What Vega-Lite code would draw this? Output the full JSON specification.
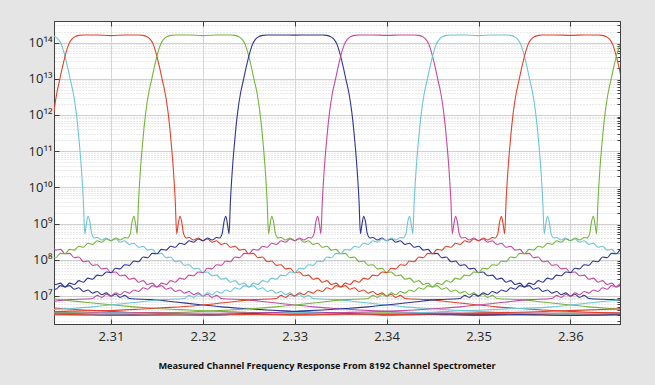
{
"$schema":"https://vega.github.io/schema/vega-lite/v6.json",
"width":566,"height":303,
"autosize":{"type":"none"},
"padding":{"left":54,"top":21,"right":35,"bottom":61},
"background":"#e5e5e5",
"config":{"view":{"fill":"white","stroke":"#404040","strokeWidth":1}},
"title":{"text":"Measured Channel Frequency Response From 8192 Channel Spectrometer","orient":"bottom","anchor":"middle","font":"Open Sans","fontSize":9.2,"fontWeight":"bold","color":"#111111","offset":19,"dx":-10},
"data":{"values":[
{"k":-8,"f":2.3005,"v":3.6e6},{"k":-8,"f":2.3055,"v":3.4e6},{"k":-8,"f":2.3105,"v":3.2e6},{"k":-8,"f":2.3155,"v":3.1e6},{"k":-8,"f":2.3205,"v":3.05e6},{"k":-8,"f":2.3255,"v":3.15e6},{"k":-8,"f":2.3305,"v":2.95e6},{"k":-8,"f":2.3355,"v":3.05e6},{"k":-8,"f":2.3405,"v":3.0e6},{"k":-8,"f":2.3455,"v":3.1e6},{"k":-8,"f":2.3505,"v":2.95e6},{"k":-8,"f":2.3555,"v":3.05e6},{"k":-8,"f":2.3605,"v":3.0e6},{"k":-8,"f":2.3655,"v":3.1e6},
{"k":-7,"f":2.302,"v":5.0e6},{"k":-7,"f":2.3045,"v":4.5e6},{"k":-7,"f":2.307,"v":4.1e6},{"k":-7,"f":2.3095,"v":3.8e6},{"k":-7,"f":2.312,"v":3.5e6},{"k":-7,"f":2.3145,"v":3.4e6},{"k":-7,"f":2.3195,"v":3.2e6},{"k":-7,"f":2.3245,"v":3.3e6},{"k":-7,"f":2.3295,"v":3.1e6},{"k":-7,"f":2.3345,"v":3.25e6},{"k":-7,"f":2.3395,"v":3.1e6},{"k":-7,"f":2.3445,"v":3.2e6},{"k":-7,"f":2.3495,"v":3.05e6},{"k":-7,"f":2.3545,"v":3.15e6},{"k":-7,"f":2.3595,"v":3.0e6},{"k":-7,"f":2.3645,"v":3.1e6},{"k":-7,"f":2.3695,"v":3.05e6},
{"k":-6,"f":2.3025,"v":9.0e6},{"k":-6,"f":2.305,"v":7.6e6},{"k":-6,"f":2.3075,"v":6.6e6},{"k":-6,"f":2.31,"v":5.7e6},{"k":-6,"f":2.3125,"v":5.0e6},{"k":-6,"f":2.315,"v":4.5e6},{"k":-6,"f":2.3175,"v":4.2e6},{"k":-6,"f":2.32,"v":3.9e6},{"k":-6,"f":2.3225,"v":3.7e6},{"k":-6,"f":2.325,"v":3.5e6},{"k":-6,"f":2.33,"v":3.4e6},{"k":-6,"f":2.335,"v":3.3e6},{"k":-6,"f":2.34,"v":3.4e6},{"k":-6,"f":2.345,"v":3.2e6},{"k":-6,"f":2.35,"v":3.3e6},{"k":-6,"f":2.355,"v":3.25e6},{"k":-6,"f":2.36,"v":3.35e6},{"k":-6,"f":2.365,"v":3.2e6},{"k":-6,"f":2.37,"v":3.3e6},
{"k":-5,"f":2.3035,"v":2.66e7},{"k":-5,"f":2.304,"v":2.07e7},{"k":-5,"f":2.3045,"v":2.26e7},{"k":-5,"f":2.305,"v":1.76e7},{"k":-5,"f":2.3055,"v":1.93e7},{"k":-5,"f":2.306,"v":1.53e7},{"k":-5,"f":2.3065,"v":1.68e7},{"k":-5,"f":2.307,"v":1.33e7},{"k":-5,"f":2.3075,"v":1.46e7},{"k":-5,"f":2.308,"v":1.19e7},{"k":-5,"f":2.3085,"v":1.33e7},{"k":-5,"f":2.309,"v":1.08e7},{"k":-5,"f":2.3095,"v":1.22e7},{"k":-5,"f":2.31,"v":9.9e6},{"k":-5,"f":2.3105,"v":1.11e7},{"k":-5,"f":2.311,"v":9.1e6},{"k":-5,"f":2.3115,"v":1.04e7},{"k":-5,"f":2.312,"v":8.5e6},{"k":-5,"f":2.3145,"v":7.9e6},{"k":-5,"f":2.317,"v":6.8e6},{"k":-5,"f":2.3195,"v":5.8e6},{"k":-5,"f":2.322,"v":5.0e6},{"k":-5,"f":2.3245,"v":4.5e6},{"k":-5,"f":2.327,"v":4.1e6},{"k":-5,"f":2.3295,"v":3.8e6},{"k":-5,"f":2.332,"v":3.55e6},{"k":-5,"f":2.3345,"v":3.4e6},{"k":-5,"f":2.3395,"v":3.0e6},{"k":-5,"f":2.3445,"v":3.1e6},{"k":-5,"f":2.3495,"v":2.95e6},{"k":-5,"f":2.3545,"v":3.05e6},{"k":-5,"f":2.3595,"v":2.9e6},{"k":-5,"f":2.3645,"v":3.0e6},{"k":-5,"f":2.3695,"v":2.95e6},
{"k":-4,"f":2.303,"v":2.21e8},{"k":-4,"f":2.3035,"v":2.37e8},{"k":-4,"f":2.304,"v":1.84e8},{"k":-4,"f":2.3045,"v":1.93e8},{"k":-4,"f":2.305,"v":1.46e8},{"k":-4,"f":2.3055,"v":1.5e8},{"k":-4,"f":2.306,"v":1.14e8},{"k":-4,"f":2.3065,"v":1.19e8},{"k":-4,"f":2.307,"v":8.8e7},{"k":-4,"f":2.3075,"v":9.2e7},{"k":-4,"f":2.308,"v":7.0e7},{"k":-4,"f":2.3085,"v":7.3e7},{"k":-4,"f":2.309,"v":5.6e7},{"k":-4,"f":2.3095,"v":5.8e7},{"k":-4,"f":2.31,"v":4.4e7},{"k":-4,"f":2.3105,"v":4.6e7},{"k":-4,"f":2.311,"v":3.6e7},{"k":-4,"f":2.3115,"v":3.76e7},{"k":-4,"f":2.312,"v":2.9e7},{"k":-4,"f":2.3125,"v":3.1e7},{"k":-4,"f":2.313,"v":2.4e7},{"k":-4,"f":2.3135,"v":2.66e7},{"k":-4,"f":2.314,"v":2.07e7},{"k":-4,"f":2.3145,"v":2.26e7},{"k":-4,"f":2.315,"v":1.76e7},{"k":-4,"f":2.3155,"v":1.93e7},{"k":-4,"f":2.316,"v":1.53e7},{"k":-4,"f":2.3165,"v":1.68e7},{"k":-4,"f":2.317,"v":1.33e7},{"k":-4,"f":2.3175,"v":1.46e7},{"k":-4,"f":2.318,"v":1.19e7},{"k":-4,"f":2.3185,"v":1.33e7},{"k":-4,"f":2.319,"v":1.08e7},{"k":-4,"f":2.3195,"v":1.22e7},{"k":-4,"f":2.32,"v":9.9e6},{"k":-4,"f":2.3205,"v":1.11e7},{"k":-4,"f":2.321,"v":9.1e6},{"k":-4,"f":2.3215,"v":1.04e7},{"k":-4,"f":2.322,"v":8.5e6},{"k":-4,"f":2.3245,"v":7.9e6},{"k":-4,"f":2.327,"v":6.8e6},{"k":-4,"f":2.3295,"v":5.8e6},{"k":-4,"f":2.332,"v":5.0e6},{"k":-4,"f":2.3345,"v":4.5e6},{"k":-4,"f":2.337,"v":4.1e6},{"k":-4,"f":2.3395,"v":3.8e6},{"k":-4,"f":2.342,"v":3.55e6},{"k":-4,"f":2.3445,"v":3.4e6},{"k":-4,"f":2.3495,"v":3.3e6},{"k":-4,"f":2.3545,"v":3.45e6},{"k":-4,"f":2.3595,"v":3.3e6},{"k":-4,"f":2.3645,"v":3.4e6},{"k":-4,"f":2.3695,"v":3.3e6},
{"k":-3,"f":2.3035,"v":1.58e14},{"k":-3,"f":2.304,"v":1.41e14},{"k":-3,"f":2.3043,"v":1.2e14},{"k":-3,"f":2.3046,"v":8.9e13},{"k":-3,"f":2.305,"v":4.17e13},{"k":-3,"f":2.3053,"v":2.0e13},{"k":-3,"f":2.3056,"v":8.9e12},{"k":-3,"f":2.3059,"v":3.98e12},{"k":-3,"f":2.3062,"v":1.26e12},{"k":-3,"f":2.3064,"v":4.47e11},{"k":-3,"f":2.3066,"v":1.26e11},{"k":-3,"f":2.3068,"v":2.82e10},{"k":-3,"f":2.307,"v":3.98e9},{"k":-3,"f":2.30715,"v":5.25e8},{"k":-3,"f":2.3073,"v":8.9e8},{"k":-3,"f":2.3075,"v":1.58e9},{"k":-3,"f":2.3077,"v":1.12e9},{"k":-3,"f":2.3079,"v":5.25e8},{"k":-3,"f":2.3082,"v":3.98e8},
{"k":-3,"f":2.3085,"v":4.1e8},{"k":-3,"f":2.309,"v":3.5e8},{"k":-3,"f":2.3095,"v":4.0e8},{"k":-3,"f":2.31,"v":3.35e8},{"k":-3,"f":2.3105,"v":3.76e8},{"k":-3,"f":2.311,"v":3.05e8},{"k":-3,"f":2.3115,"v":3.35e8},{"k":-3,"f":2.312,"v":2.66e8},{"k":-3,"f":2.3125,"v":2.85e8},{"k":-3,"f":2.313,"v":2.21e8},{"k":-3,"f":2.3135,"v":2.37e8},{"k":-3,"f":2.314,"v":1.84e8},{"k":-3,"f":2.3145,"v":1.93e8},{"k":-3,"f":2.315,"v":1.46e8},{"k":-3,"f":2.3155,"v":1.5e8},{"k":-3,"f":2.316,"v":1.14e8},{"k":-3,"f":2.3165,"v":1.19e8},{"k":-3,"f":2.317,"v":8.8e7},{"k":-3,"f":2.3175,"v":9.2e7},{"k":-3,"f":2.318,"v":7.0e7},{"k":-3,"f":2.3185,"v":7.3e7},{"k":-3,"f":2.319,"v":5.6e7},{"k":-3,"f":2.3195,"v":5.8e7},{"k":-3,"f":2.32,"v":4.4e7},{"k":-3,"f":2.3205,"v":4.6e7},{"k":-3,"f":2.321,"v":3.6e7},{"k":-3,"f":2.3215,"v":3.76e7},{"k":-3,"f":2.322,"v":2.9e7},{"k":-3,"f":2.3225,"v":3.1e7},{"k":-3,"f":2.323,"v":2.4e7},{"k":-3,"f":2.3235,"v":2.66e7},{"k":-3,"f":2.324,"v":2.07e7},{"k":-3,"f":2.3245,"v":2.26e7},{"k":-3,"f":2.325,"v":1.76e7},{"k":-3,"f":2.3255,"v":1.93e7},{"k":-3,"f":2.326,"v":1.53e7},{"k":-3,"f":2.3265,"v":1.68e7},{"k":-3,"f":2.327,"v":1.33e7},{"k":-3,"f":2.3275,"v":1.46e7},{"k":-3,"f":2.328,"v":1.19e7},{"k":-3,"f":2.3285,"v":1.33e7},{"k":-3,"f":2.329,"v":1.08e7},{"k":-3,"f":2.3295,"v":1.22e7},{"k":-3,"f":2.33,"v":9.9e6},{"k":-3,"f":2.3305,"v":1.11e7},{"k":-3,"f":2.331,"v":9.1e6},{"k":-3,"f":2.3315,"v":1.04e7},{"k":-3,"f":2.332,"v":8.5e6},{"k":-3,"f":2.3345,"v":7.9e6},{"k":-3,"f":2.337,"v":6.8e6},{"k":-3,"f":2.3395,"v":5.8e6},{"k":-3,"f":2.342,"v":5.0e6},{"k":-3,"f":2.3445,"v":4.5e6},{"k":-3,"f":2.347,"v":4.1e6},{"k":-3,"f":2.3495,"v":3.8e6},{"k":-3,"f":2.352,"v":3.55e6},{"k":-3,"f":2.3545,"v":3.4e6},{"k":-3,"f":2.3595,"v":3.2e6},{"k":-3,"f":2.3645,"v":3.3e6},{"k":-3,"f":2.3695,"v":3.15e6},
{"k":-2,"f":2.3036,"v":4.47e11},{"k":-2,"f":2.3038,"v":1.26e12},{"k":-2,"f":2.3041,"v":3.98e12},{"k":-2,"f":2.3044,"v":8.9e12},{"k":-2,"f":2.3047,"v":2.0e13},{"k":-2,"f":2.305,"v":4.17e13},{"k":-2,"f":2.3054,"v":8.9e13},{"k":-2,"f":2.3057,"v":1.2e14},{"k":-2,"f":2.306,"v":1.41e14},{"k":-2,"f":2.3065,"v":1.58e14},{"k":-2,"f":2.307,"v":1.62e14},{"k":-2,"f":2.3085,"v":1.62e14},{"k":-2,"f":2.31,"v":1.55e14},{"k":-2,"f":2.3115,"v":1.62e14},{"k":-2,"f":2.313,"v":1.62e14},{"k":-2,"f":2.3135,"v":1.58e14},{"k":-2,"f":2.314,"v":1.41e14},{"k":-2,"f":2.3143,"v":1.2e14},{"k":-2,"f":2.3146,"v":8.9e13},{"k":-2,"f":2.315,"v":4.17e13},{"k":-2,"f":2.3153,"v":2.0e13},{"k":-2,"f":2.3156,"v":8.9e12},{"k":-2,"f":2.3159,"v":3.98e12},{"k":-2,"f":2.3162,"v":1.26e12},{"k":-2,"f":2.3164,"v":4.47e11},{"k":-2,"f":2.3166,"v":1.26e11},{"k":-2,"f":2.3168,"v":2.82e10},{"k":-2,"f":2.317,"v":3.98e9},{"k":-2,"f":2.31715,"v":5.25e8},{"k":-2,"f":2.3173,"v":8.9e8},{"k":-2,"f":2.3175,"v":1.58e9},{"k":-2,"f":2.3177,"v":1.12e9},{"k":-2,"f":2.3179,"v":5.25e8},{"k":-2,"f":2.3182,"v":3.98e8},
{"k":-2,"f":2.3185,"v":4.1e8},{"k":-2,"f":2.319,"v":3.5e8},{"k":-2,"f":2.3195,"v":4.0e8},{"k":-2,"f":2.32,"v":3.35e8},{"k":-2,"f":2.3205,"v":3.76e8},{"k":-2,"f":2.321,"v":3.05e8},{"k":-2,"f":2.3215,"v":3.35e8},{"k":-2,"f":2.322,"v":2.66e8},{"k":-2,"f":2.3225,"v":2.85e8},{"k":-2,"f":2.323,"v":2.21e8},{"k":-2,"f":2.3235,"v":2.37e8},{"k":-2,"f":2.324,"v":1.84e8},{"k":-2,"f":2.3245,"v":1.93e8},{"k":-2,"f":2.325,"v":1.46e8},{"k":-2,"f":2.3255,"v":1.5e8},{"k":-2,"f":2.326,"v":1.14e8},{"k":-2,"f":2.3265,"v":1.19e8},{"k":-2,"f":2.327,"v":8.8e7},{"k":-2,"f":2.3275,"v":9.2e7},{"k":-2,"f":2.328,"v":7.0e7},{"k":-2,"f":2.3285,"v":7.3e7},{"k":-2,"f":2.329,"v":5.6e7},{"k":-2,"f":2.3295,"v":5.8e7},{"k":-2,"f":2.33,"v":4.4e7},{"k":-2,"f":2.3305,"v":4.6e7},{"k":-2,"f":2.331,"v":3.6e7},{"k":-2,"f":2.3315,"v":3.76e7},{"k":-2,"f":2.332,"v":2.9e7},{"k":-2,"f":2.3325,"v":3.1e7},{"k":-2,"f":2.333,"v":2.4e7},{"k":-2,"f":2.3335,"v":2.66e7},{"k":-2,"f":2.334,"v":2.07e7},{"k":-2,"f":2.3345,"v":2.26e7},{"k":-2,"f":2.335,"v":1.76e7},{"k":-2,"f":2.3355,"v":1.93e7},{"k":-2,"f":2.336,"v":1.53e7},{"k":-2,"f":2.3365,"v":1.68e7},{"k":-2,"f":2.337,"v":1.33e7},{"k":-2,"f":2.3375,"v":1.46e7},{"k":-2,"f":2.338,"v":1.19e7},{"k":-2,"f":2.3385,"v":1.33e7},{"k":-2,"f":2.339,"v":1.08e7},{"k":-2,"f":2.3395,"v":1.22e7},{"k":-2,"f":2.34,"v":9.9e6},{"k":-2,"f":2.3405,"v":1.11e7},{"k":-2,"f":2.341,"v":9.1e6},{"k":-2,"f":2.3415,"v":1.04e7},{"k":-2,"f":2.342,"v":8.5e6},{"k":-2,"f":2.3445,"v":7.9e6},{"k":-2,"f":2.347,"v":6.8e6},{"k":-2,"f":2.3495,"v":5.8e6},{"k":-2,"f":2.352,"v":5.0e6},{"k":-2,"f":2.3545,"v":4.5e6},{"k":-2,"f":2.357,"v":4.1e6},{"k":-2,"f":2.3595,"v":3.8e6},{"k":-2,"f":2.362,"v":3.55e6},{"k":-2,"f":2.3645,"v":3.4e6},{"k":-2,"f":2.367,"v":3.3e6},
{"k":-1,"f":2.3035,"v":1.19e8},{"k":-1,"f":2.304,"v":1.14e8},{"k":-1,"f":2.3045,"v":1.5e8},{"k":-1,"f":2.305,"v":1.46e8},{"k":-1,"f":2.3055,"v":1.93e8},{"k":-1,"f":2.306,"v":1.84e8},{"k":-1,"f":2.3065,"v":2.37e8},{"k":-1,"f":2.307,"v":2.21e8},{"k":-1,"f":2.3075,"v":2.85e8},{"k":-1,"f":2.308,"v":2.66e8},{"k":-1,"f":2.3085,"v":3.35e8},{"k":-1,"f":2.309,"v":3.05e8},{"k":-1,"f":2.3095,"v":3.76e8},{"k":-1,"f":2.31,"v":3.35e8},{"k":-1,"f":2.3105,"v":4.0e8},{"k":-1,"f":2.311,"v":3.5e8},{"k":-1,"f":2.3115,"v":4.1e8},
{"k":-1,"f":2.3118,"v":3.98e8},{"k":-1,"f":2.3121,"v":5.25e8},{"k":-1,"f":2.3123,"v":1.12e9},{"k":-1,"f":2.3125,"v":1.58e9},{"k":-1,"f":2.3127,"v":8.9e8},{"k":-1,"f":2.31285,"v":5.25e8},{"k":-1,"f":2.313,"v":3.98e9},{"k":-1,"f":2.3132,"v":2.82e10},{"k":-1,"f":2.3134,"v":1.26e11},{"k":-1,"f":2.3136,"v":4.47e11},{"k":-1,"f":2.3138,"v":1.26e12},{"k":-1,"f":2.3141,"v":3.98e12},{"k":-1,"f":2.3144,"v":8.9e12},{"k":-1,"f":2.3147,"v":2.0e13},{"k":-1,"f":2.315,"v":4.17e13},{"k":-1,"f":2.3154,"v":8.9e13},{"k":-1,"f":2.3157,"v":1.2e14},{"k":-1,"f":2.316,"v":1.41e14},{"k":-1,"f":2.3165,"v":1.58e14},{"k":-1,"f":2.317,"v":1.62e14},{"k":-1,"f":2.3185,"v":1.62e14},{"k":-1,"f":2.32,"v":1.55e14},{"k":-1,"f":2.3215,"v":1.62e14},{"k":-1,"f":2.323,"v":1.62e14},{"k":-1,"f":2.3235,"v":1.58e14},{"k":-1,"f":2.324,"v":1.41e14},{"k":-1,"f":2.3243,"v":1.2e14},{"k":-1,"f":2.3246,"v":8.9e13},{"k":-1,"f":2.325,"v":4.17e13},{"k":-1,"f":2.3253,"v":2.0e13},{"k":-1,"f":2.3256,"v":8.9e12},{"k":-1,"f":2.3259,"v":3.98e12},{"k":-1,"f":2.3262,"v":1.26e12},{"k":-1,"f":2.3264,"v":4.47e11},{"k":-1,"f":2.3266,"v":1.26e11},{"k":-1,"f":2.3268,"v":2.82e10},{"k":-1,"f":2.327,"v":3.98e9},{"k":-1,"f":2.32715,"v":5.25e8},{"k":-1,"f":2.3273,"v":8.9e8},{"k":-1,"f":2.3275,"v":1.58e9},{"k":-1,"f":2.3277,"v":1.12e9},{"k":-1,"f":2.3279,"v":5.25e8},{"k":-1,"f":2.3282,"v":3.98e8},
{"k":-1,"f":2.3285,"v":4.1e8},{"k":-1,"f":2.329,"v":3.5e8},{"k":-1,"f":2.3295,"v":4.0e8},{"k":-1,"f":2.33,"v":3.35e8},{"k":-1,"f":2.3305,"v":3.76e8},{"k":-1,"f":2.331,"v":3.05e8},{"k":-1,"f":2.3315,"v":3.35e8},{"k":-1,"f":2.332,"v":2.66e8},{"k":-1,"f":2.3325,"v":2.85e8},{"k":-1,"f":2.333,"v":2.21e8},{"k":-1,"f":2.3335,"v":2.37e8},{"k":-1,"f":2.334,"v":1.84e8},{"k":-1,"f":2.3345,"v":1.93e8},{"k":-1,"f":2.335,"v":1.46e8},{"k":-1,"f":2.3355,"v":1.5e8},{"k":-1,"f":2.336,"v":1.14e8},{"k":-1,"f":2.3365,"v":1.19e8},{"k":-1,"f":2.337,"v":8.8e7},{"k":-1,"f":2.3375,"v":9.2e7},{"k":-1,"f":2.338,"v":7.0e7},{"k":-1,"f":2.3385,"v":7.3e7},{"k":-1,"f":2.339,"v":5.6e7},{"k":-1,"f":2.3395,"v":5.8e7},{"k":-1,"f":2.34,"v":4.4e7},{"k":-1,"f":2.3405,"v":4.6e7},{"k":-1,"f":2.341,"v":3.6e7},{"k":-1,"f":2.3415,"v":3.76e7},{"k":-1,"f":2.342,"v":2.9e7},{"k":-1,"f":2.3425,"v":3.1e7},{"k":-1,"f":2.343,"v":2.4e7},{"k":-1,"f":2.3435,"v":2.66e7},{"k":-1,"f":2.344,"v":2.07e7},{"k":-1,"f":2.3445,"v":2.26e7},{"k":-1,"f":2.345,"v":1.76e7},{"k":-1,"f":2.3455,"v":1.93e7},{"k":-1,"f":2.346,"v":1.53e7},{"k":-1,"f":2.3465,"v":1.68e7},{"k":-1,"f":2.347,"v":1.33e7},{"k":-1,"f":2.3475,"v":1.46e7},{"k":-1,"f":2.348,"v":1.19e7},{"k":-1,"f":2.3485,"v":1.33e7},{"k":-1,"f":2.349,"v":1.08e7},{"k":-1,"f":2.3495,"v":1.22e7},{"k":-1,"f":2.35,"v":9.9e6},{"k":-1,"f":2.3505,"v":1.11e7},{"k":-1,"f":2.351,"v":9.1e6},{"k":-1,"f":2.3515,"v":1.04e7},{"k":-1,"f":2.352,"v":8.5e6},{"k":-1,"f":2.3545,"v":7.9e6},{"k":-1,"f":2.357,"v":6.8e6},{"k":-1,"f":2.3595,"v":5.8e6},{"k":-1,"f":2.362,"v":5.0e6},{"k":-1,"f":2.3645,"v":4.5e6},{"k":-1,"f":2.367,"v":4.1e6},
{"k":0,"f":2.3035,"v":1.68e7},{"k":0,"f":2.304,"v":1.53e7},{"k":0,"f":2.3045,"v":1.93e7},{"k":0,"f":2.305,"v":1.76e7},{"k":0,"f":2.3055,"v":2.26e7},{"k":0,"f":2.306,"v":2.07e7},{"k":0,"f":2.3065,"v":2.66e7},{"k":0,"f":2.307,"v":2.4e7},{"k":0,"f":2.3075,"v":3.1e7},{"k":0,"f":2.308,"v":2.9e7},{"k":0,"f":2.3085,"v":3.76e7},{"k":0,"f":2.309,"v":3.6e7},{"k":0,"f":2.3095,"v":4.6e7},{"k":0,"f":2.31,"v":4.4e7},{"k":0,"f":2.3105,"v":5.8e7},{"k":0,"f":2.311,"v":5.6e7},{"k":0,"f":2.3115,"v":7.3e7},{"k":0,"f":2.312,"v":7.0e7},{"k":0,"f":2.3125,"v":9.2e7},{"k":0,"f":2.313,"v":8.8e7},{"k":0,"f":2.3135,"v":1.19e8},{"k":0,"f":2.314,"v":1.14e8},{"k":0,"f":2.3145,"v":1.5e8},{"k":0,"f":2.315,"v":1.46e8},{"k":0,"f":2.3155,"v":1.93e8},{"k":0,"f":2.316,"v":1.84e8},{"k":0,"f":2.3165,"v":2.37e8},{"k":0,"f":2.317,"v":2.21e8},{"k":0,"f":2.3175,"v":2.85e8},{"k":0,"f":2.318,"v":2.66e8},{"k":0,"f":2.3185,"v":3.35e8},{"k":0,"f":2.319,"v":3.05e8},{"k":0,"f":2.3195,"v":3.76e8},{"k":0,"f":2.32,"v":3.35e8},{"k":0,"f":2.3205,"v":4.0e8},{"k":0,"f":2.321,"v":3.5e8},{"k":0,"f":2.3215,"v":4.1e8},
{"k":0,"f":2.3218,"v":3.98e8},{"k":0,"f":2.3221,"v":5.25e8},{"k":0,"f":2.3223,"v":1.12e9},{"k":0,"f":2.3225,"v":1.58e9},{"k":0,"f":2.3227,"v":8.9e8},{"k":0,"f":2.32285,"v":5.25e8},{"k":0,"f":2.323,"v":3.98e9},{"k":0,"f":2.3232,"v":2.82e10},{"k":0,"f":2.3234,"v":1.26e11},{"k":0,"f":2.3236,"v":4.47e11},{"k":0,"f":2.3238,"v":1.26e12},{"k":0,"f":2.3241,"v":3.98e12},{"k":0,"f":2.3244,"v":8.9e12},{"k":0,"f":2.3247,"v":2.0e13},{"k":0,"f":2.325,"v":4.17e13},{"k":0,"f":2.3254,"v":8.9e13},{"k":0,"f":2.3257,"v":1.2e14},{"k":0,"f":2.326,"v":1.41e14},{"k":0,"f":2.3265,"v":1.58e14},{"k":0,"f":2.327,"v":1.62e14},{"k":0,"f":2.3285,"v":1.62e14},{"k":0,"f":2.33,"v":1.6e14},{"k":0,"f":2.3315,"v":1.62e14},{"k":0,"f":2.333,"v":1.62e14},{"k":0,"f":2.3335,"v":1.58e14},{"k":0,"f":2.334,"v":1.41e14},{"k":0,"f":2.3343,"v":1.2e14},{"k":0,"f":2.3346,"v":8.9e13},{"k":0,"f":2.335,"v":4.17e13},{"k":0,"f":2.3353,"v":2.0e13},{"k":0,"f":2.3356,"v":8.9e12},{"k":0,"f":2.3359,"v":3.98e12},{"k":0,"f":2.3362,"v":1.26e12},{"k":0,"f":2.3364,"v":4.47e11},{"k":0,"f":2.3366,"v":1.26e11},{"k":0,"f":2.3368,"v":2.82e10},{"k":0,"f":2.337,"v":3.98e9},{"k":0,"f":2.33715,"v":5.25e8},{"k":0,"f":2.3373,"v":8.9e8},{"k":0,"f":2.3375,"v":1.58e9},{"k":0,"f":2.3377,"v":1.12e9},{"k":0,"f":2.3379,"v":5.25e8},{"k":0,"f":2.3382,"v":3.98e8},
{"k":0,"f":2.3385,"v":4.1e8},{"k":0,"f":2.339,"v":3.5e8},{"k":0,"f":2.3395,"v":4.0e8},{"k":0,"f":2.34,"v":3.35e8},{"k":0,"f":2.3405,"v":3.76e8},{"k":0,"f":2.341,"v":3.05e8},{"k":0,"f":2.3415,"v":3.35e8},{"k":0,"f":2.342,"v":2.66e8},{"k":0,"f":2.3425,"v":2.85e8},{"k":0,"f":2.343,"v":2.21e8},{"k":0,"f":2.3435,"v":2.37e8},{"k":0,"f":2.344,"v":1.84e8},{"k":0,"f":2.3445,"v":1.93e8},{"k":0,"f":2.345,"v":1.46e8},{"k":0,"f":2.3455,"v":1.5e8},{"k":0,"f":2.346,"v":1.14e8},{"k":0,"f":2.3465,"v":1.19e8},{"k":0,"f":2.347,"v":8.8e7},{"k":0,"f":2.3475,"v":9.2e7},{"k":0,"f":2.348,"v":7.0e7},{"k":0,"f":2.3485,"v":7.3e7},{"k":0,"f":2.349,"v":5.6e7},{"k":0,"f":2.3495,"v":5.8e7},{"k":0,"f":2.35,"v":4.4e7},{"k":0,"f":2.3505,"v":4.6e7},{"k":0,"f":2.351,"v":3.6e7},{"k":0,"f":2.3515,"v":3.76e7},{"k":0,"f":2.352,"v":2.9e7},{"k":0,"f":2.3525,"v":3.1e7},{"k":0,"f":2.353,"v":2.4e7},{"k":0,"f":2.3535,"v":2.66e7},{"k":0,"f":2.354,"v":2.07e7},{"k":0,"f":2.3545,"v":2.26e7},{"k":0,"f":2.355,"v":1.76e7},{"k":0,"f":2.3555,"v":1.93e7},{"k":0,"f":2.356,"v":1.53e7},{"k":0,"f":2.3565,"v":1.68e7},{"k":0,"f":2.357,"v":1.33e7},{"k":0,"f":2.3575,"v":1.46e7},{"k":0,"f":2.358,"v":1.19e7},{"k":0,"f":2.3585,"v":1.33e7},{"k":0,"f":2.359,"v":1.08e7},{"k":0,"f":2.3595,"v":1.22e7},{"k":0,"f":2.36,"v":9.9e6},{"k":0,"f":2.3605,"v":1.11e7},{"k":0,"f":2.361,"v":9.1e6},{"k":0,"f":2.3615,"v":1.04e7},{"k":0,"f":2.362,"v":8.5e6},{"k":0,"f":2.3645,"v":7.9e6},{"k":0,"f":2.367,"v":6.8e6},
{"k":1,"f":2.303,"v":6.8e6},{"k":1,"f":2.3055,"v":7.9e6},{"k":1,"f":2.308,"v":8.5e6},{"k":1,"f":2.3085,"v":1.04e7},{"k":1,"f":2.309,"v":9.1e6},{"k":1,"f":2.3095,"v":1.11e7},{"k":1,"f":2.31,"v":9.9e6},{"k":1,"f":2.3105,"v":1.22e7},{"k":1,"f":2.311,"v":1.08e7},{"k":1,"f":2.3115,"v":1.33e7},{"k":1,"f":2.312,"v":1.19e7},{"k":1,"f":2.3125,"v":1.46e7},{"k":1,"f":2.313,"v":1.33e7},{"k":1,"f":2.3135,"v":1.68e7},{"k":1,"f":2.314,"v":1.53e7},{"k":1,"f":2.3145,"v":1.93e7},{"k":1,"f":2.315,"v":1.76e7},{"k":1,"f":2.3155,"v":2.26e7},{"k":1,"f":2.316,"v":2.07e7},{"k":1,"f":2.3165,"v":2.66e7},{"k":1,"f":2.317,"v":2.4e7},{"k":1,"f":2.3175,"v":3.1e7},{"k":1,"f":2.318,"v":2.9e7},{"k":1,"f":2.3185,"v":3.76e7},{"k":1,"f":2.319,"v":3.6e7},{"k":1,"f":2.3195,"v":4.6e7},{"k":1,"f":2.32,"v":4.4e7},{"k":1,"f":2.3205,"v":5.8e7},{"k":1,"f":2.321,"v":5.6e7},{"k":1,"f":2.3215,"v":7.3e7},{"k":1,"f":2.322,"v":7.0e7},{"k":1,"f":2.3225,"v":9.2e7},{"k":1,"f":2.323,"v":8.8e7},{"k":1,"f":2.3235,"v":1.19e8},{"k":1,"f":2.324,"v":1.14e8},{"k":1,"f":2.3245,"v":1.5e8},{"k":1,"f":2.325,"v":1.46e8},{"k":1,"f":2.3255,"v":1.93e8},{"k":1,"f":2.326,"v":1.84e8},{"k":1,"f":2.3265,"v":2.37e8},{"k":1,"f":2.327,"v":2.21e8},{"k":1,"f":2.3275,"v":2.85e8},{"k":1,"f":2.328,"v":2.66e8},{"k":1,"f":2.3285,"v":3.35e8},{"k":1,"f":2.329,"v":3.05e8},{"k":1,"f":2.3295,"v":3.76e8},{"k":1,"f":2.33,"v":3.35e8},{"k":1,"f":2.3305,"v":4.0e8},{"k":1,"f":2.331,"v":3.5e8},{"k":1,"f":2.3315,"v":4.1e8},
{"k":1,"f":2.3318,"v":3.98e8},{"k":1,"f":2.3321,"v":5.25e8},{"k":1,"f":2.3323,"v":1.12e9},{"k":1,"f":2.3325,"v":1.58e9},{"k":1,"f":2.3327,"v":8.9e8},{"k":1,"f":2.33285,"v":5.25e8},{"k":1,"f":2.333,"v":3.98e9},{"k":1,"f":2.3332,"v":2.82e10},{"k":1,"f":2.3334,"v":1.26e11},{"k":1,"f":2.3336,"v":4.47e11},{"k":1,"f":2.3338,"v":1.26e12},{"k":1,"f":2.3341,"v":3.98e12},{"k":1,"f":2.3344,"v":8.9e12},{"k":1,"f":2.3347,"v":2.0e13},{"k":1,"f":2.335,"v":4.17e13},{"k":1,"f":2.3354,"v":8.9e13},{"k":1,"f":2.3357,"v":1.2e14},{"k":1,"f":2.336,"v":1.41e14},{"k":1,"f":2.3365,"v":1.58e14},{"k":1,"f":2.337,"v":1.62e14},{"k":1,"f":2.3385,"v":1.62e14},{"k":1,"f":2.34,"v":1.58e14},{"k":1,"f":2.3415,"v":1.62e14},{"k":1,"f":2.343,"v":1.62e14},{"k":1,"f":2.3435,"v":1.58e14},{"k":1,"f":2.344,"v":1.41e14},{"k":1,"f":2.3443,"v":1.2e14},{"k":1,"f":2.3446,"v":8.9e13},{"k":1,"f":2.345,"v":4.17e13},{"k":1,"f":2.3453,"v":2.0e13},{"k":1,"f":2.3456,"v":8.9e12},{"k":1,"f":2.3459,"v":3.98e12},{"k":1,"f":2.3462,"v":1.26e12},{"k":1,"f":2.3464,"v":4.47e11},{"k":1,"f":2.3466,"v":1.26e11},{"k":1,"f":2.3468,"v":2.82e10},{"k":1,"f":2.347,"v":3.98e9},{"k":1,"f":2.34715,"v":5.25e8},{"k":1,"f":2.3473,"v":8.9e8},{"k":1,"f":2.3475,"v":1.58e9},{"k":1,"f":2.3477,"v":1.12e9},{"k":1,"f":2.3479,"v":5.25e8},{"k":1,"f":2.3482,"v":3.98e8},
{"k":1,"f":2.3485,"v":4.1e8},{"k":1,"f":2.349,"v":3.5e8},{"k":1,"f":2.3495,"v":4.0e8},{"k":1,"f":2.35,"v":3.35e8},{"k":1,"f":2.3505,"v":3.76e8},{"k":1,"f":2.351,"v":3.05e8},{"k":1,"f":2.3515,"v":3.35e8},{"k":1,"f":2.352,"v":2.66e8},{"k":1,"f":2.3525,"v":2.85e8},{"k":1,"f":2.353,"v":2.21e8},{"k":1,"f":2.3535,"v":2.37e8},{"k":1,"f":2.354,"v":1.84e8},{"k":1,"f":2.3545,"v":1.93e8},{"k":1,"f":2.355,"v":1.46e8},{"k":1,"f":2.3555,"v":1.5e8},{"k":1,"f":2.356,"v":1.14e8},{"k":1,"f":2.3565,"v":1.19e8},{"k":1,"f":2.357,"v":8.8e7},{"k":1,"f":2.3575,"v":9.2e7},{"k":1,"f":2.358,"v":7.0e7},{"k":1,"f":2.3585,"v":7.3e7},{"k":1,"f":2.359,"v":5.6e7},{"k":1,"f":2.3595,"v":5.8e7},{"k":1,"f":2.36,"v":4.4e7},{"k":1,"f":2.3605,"v":4.6e7},{"k":1,"f":2.361,"v":3.6e7},{"k":1,"f":2.3615,"v":3.76e7},{"k":1,"f":2.362,"v":2.9e7},{"k":1,"f":2.3625,"v":3.1e7},{"k":1,"f":2.363,"v":2.4e7},{"k":1,"f":2.3635,"v":2.66e7},{"k":1,"f":2.364,"v":2.07e7},{"k":1,"f":2.3645,"v":2.26e7},{"k":1,"f":2.365,"v":1.76e7},{"k":1,"f":2.3655,"v":1.93e7},{"k":1,"f":2.366,"v":1.53e7},
{"k":2,"f":2.303,"v":4.1e6},{"k":2,"f":2.3055,"v":4.5e6},{"k":2,"f":2.308,"v":5.0e6},{"k":2,"f":2.3105,"v":5.8e6},{"k":2,"f":2.313,"v":6.8e6},{"k":2,"f":2.3155,"v":7.9e6},{"k":2,"f":2.318,"v":8.5e6},{"k":2,"f":2.3185,"v":1.04e7},{"k":2,"f":2.319,"v":9.1e6},{"k":2,"f":2.3195,"v":1.11e7},{"k":2,"f":2.32,"v":9.9e6},{"k":2,"f":2.3205,"v":1.22e7},{"k":2,"f":2.321,"v":1.08e7},{"k":2,"f":2.3215,"v":1.33e7},{"k":2,"f":2.322,"v":1.19e7},{"k":2,"f":2.3225,"v":1.46e7},{"k":2,"f":2.323,"v":1.33e7},{"k":2,"f":2.3235,"v":1.68e7},{"k":2,"f":2.324,"v":1.53e7},{"k":2,"f":2.3245,"v":1.93e7},{"k":2,"f":2.325,"v":1.76e7},{"k":2,"f":2.3255,"v":2.26e7},{"k":2,"f":2.326,"v":2.07e7},{"k":2,"f":2.3265,"v":2.66e7},{"k":2,"f":2.327,"v":2.4e7},{"k":2,"f":2.3275,"v":3.1e7},{"k":2,"f":2.328,"v":2.9e7},{"k":2,"f":2.3285,"v":3.76e7},{"k":2,"f":2.329,"v":3.6e7},{"k":2,"f":2.3295,"v":4.6e7},{"k":2,"f":2.33,"v":4.4e7},{"k":2,"f":2.3305,"v":5.8e7},{"k":2,"f":2.331,"v":5.6e7},{"k":2,"f":2.3315,"v":7.3e7},{"k":2,"f":2.332,"v":7.0e7},{"k":2,"f":2.3325,"v":9.2e7},{"k":2,"f":2.333,"v":8.8e7},{"k":2,"f":2.3335,"v":1.19e8},{"k":2,"f":2.334,"v":1.14e8},{"k":2,"f":2.3345,"v":1.5e8},{"k":2,"f":2.335,"v":1.46e8},{"k":2,"f":2.3355,"v":1.93e8},{"k":2,"f":2.336,"v":1.84e8},{"k":2,"f":2.3365,"v":2.37e8},{"k":2,"f":2.337,"v":2.21e8},{"k":2,"f":2.3375,"v":2.85e8},{"k":2,"f":2.338,"v":2.66e8},{"k":2,"f":2.3385,"v":3.35e8},{"k":2,"f":2.339,"v":3.05e8},{"k":2,"f":2.3395,"v":3.76e8},{"k":2,"f":2.34,"v":3.35e8},{"k":2,"f":2.3405,"v":4.0e8},{"k":2,"f":2.341,"v":3.5e8},{"k":2,"f":2.3415,"v":4.1e8},
{"k":2,"f":2.3418,"v":3.98e8},{"k":2,"f":2.3421,"v":5.25e8},{"k":2,"f":2.3423,"v":1.12e9},{"k":2,"f":2.3425,"v":1.58e9},{"k":2,"f":2.3427,"v":8.9e8},{"k":2,"f":2.34285,"v":5.25e8},{"k":2,"f":2.343,"v":3.98e9},{"k":2,"f":2.3432,"v":2.82e10},{"k":2,"f":2.3434,"v":1.26e11},{"k":2,"f":2.3436,"v":4.47e11},{"k":2,"f":2.3438,"v":1.26e12},{"k":2,"f":2.3441,"v":3.98e12},{"k":2,"f":2.3444,"v":8.9e12},{"k":2,"f":2.3447,"v":2.0e13},{"k":2,"f":2.345,"v":4.17e13},{"k":2,"f":2.3454,"v":8.9e13},{"k":2,"f":2.3457,"v":1.2e14},{"k":2,"f":2.346,"v":1.41e14},{"k":2,"f":2.3465,"v":1.58e14},{"k":2,"f":2.347,"v":1.62e14},{"k":2,"f":2.3485,"v":1.62e14},{"k":2,"f":2.35,"v":1.55e14},{"k":2,"f":2.3515,"v":1.62e14},{"k":2,"f":2.353,"v":1.62e14},{"k":2,"f":2.3535,"v":1.58e14},{"k":2,"f":2.354,"v":1.41e14},{"k":2,"f":2.3543,"v":1.2e14},{"k":2,"f":2.3546,"v":8.9e13},{"k":2,"f":2.355,"v":4.17e13},{"k":2,"f":2.3553,"v":2.0e13},{"k":2,"f":2.3556,"v":8.9e12},{"k":2,"f":2.3559,"v":3.98e12},{"k":2,"f":2.3562,"v":1.26e12},{"k":2,"f":2.3564,"v":4.47e11},{"k":2,"f":2.3566,"v":1.26e11},{"k":2,"f":2.3568,"v":2.82e10},{"k":2,"f":2.357,"v":3.98e9},{"k":2,"f":2.35715,"v":5.25e8},{"k":2,"f":2.3573,"v":8.9e8},{"k":2,"f":2.3575,"v":1.58e9},{"k":2,"f":2.3577,"v":1.12e9},{"k":2,"f":2.3579,"v":5.25e8},{"k":2,"f":2.3582,"v":3.98e8},
{"k":2,"f":2.3585,"v":4.1e8},{"k":2,"f":2.359,"v":3.5e8},{"k":2,"f":2.3595,"v":4.0e8},{"k":2,"f":2.36,"v":3.35e8},{"k":2,"f":2.3605,"v":3.76e8},{"k":2,"f":2.361,"v":3.05e8},{"k":2,"f":2.3615,"v":3.35e8},{"k":2,"f":2.362,"v":2.66e8},{"k":2,"f":2.3625,"v":2.85e8},{"k":2,"f":2.363,"v":2.21e8},{"k":2,"f":2.3635,"v":2.37e8},{"k":2,"f":2.364,"v":1.84e8},{"k":2,"f":2.3645,"v":1.93e8},{"k":2,"f":2.365,"v":1.46e8},{"k":2,"f":2.3655,"v":1.5e8},{"k":2,"f":2.366,"v":1.14e8},
{"k":3,"f":2.3005,"v":3.5e6},{"k":3,"f":2.303,"v":3.6e6},{"k":3,"f":2.3055,"v":3.8e6},{"k":3,"f":2.308,"v":3.9e6},{"k":3,"f":2.3105,"v":4.0e6},{"k":3,"f":2.313,"v":4.3e6},{"k":3,"f":2.3155,"v":4.7e6},{"k":3,"f":2.318,"v":5.1e6},{"k":3,"f":2.3205,"v":5.8e6},{"k":3,"f":2.323,"v":6.8e6},{"k":3,"f":2.3255,"v":7.9e6},{"k":3,"f":2.328,"v":8.5e6},{"k":3,"f":2.3285,"v":1.04e7},{"k":3,"f":2.329,"v":9.1e6},{"k":3,"f":2.3295,"v":1.11e7},{"k":3,"f":2.33,"v":9.9e6},{"k":3,"f":2.3305,"v":1.22e7},{"k":3,"f":2.331,"v":1.08e7},{"k":3,"f":2.3315,"v":1.33e7},{"k":3,"f":2.332,"v":1.19e7},{"k":3,"f":2.3325,"v":1.46e7},{"k":3,"f":2.333,"v":1.33e7},{"k":3,"f":2.3335,"v":1.68e7},{"k":3,"f":2.334,"v":1.53e7},{"k":3,"f":2.3345,"v":1.93e7},{"k":3,"f":2.335,"v":1.76e7},{"k":3,"f":2.3355,"v":2.26e7},{"k":3,"f":2.336,"v":2.07e7},{"k":3,"f":2.3365,"v":2.66e7},{"k":3,"f":2.337,"v":2.4e7},{"k":3,"f":2.3375,"v":3.1e7},{"k":3,"f":2.338,"v":2.9e7},{"k":3,"f":2.3385,"v":3.76e7},{"k":3,"f":2.339,"v":3.6e7},{"k":3,"f":2.3395,"v":4.6e7},{"k":3,"f":2.34,"v":4.4e7},{"k":3,"f":2.3405,"v":5.8e7},{"k":3,"f":2.341,"v":5.6e7},{"k":3,"f":2.3415,"v":7.3e7},{"k":3,"f":2.342,"v":7.0e7},{"k":3,"f":2.3425,"v":9.2e7},{"k":3,"f":2.343,"v":8.8e7},{"k":3,"f":2.3435,"v":1.19e8},{"k":3,"f":2.344,"v":1.14e8},{"k":3,"f":2.3445,"v":1.5e8},{"k":3,"f":2.345,"v":1.46e8},{"k":3,"f":2.3455,"v":1.93e8},{"k":3,"f":2.346,"v":1.84e8},{"k":3,"f":2.3465,"v":2.37e8},{"k":3,"f":2.347,"v":2.21e8},{"k":3,"f":2.3475,"v":2.85e8},{"k":3,"f":2.348,"v":2.66e8},{"k":3,"f":2.3485,"v":3.35e8},{"k":3,"f":2.349,"v":3.05e8},{"k":3,"f":2.3495,"v":3.76e8},{"k":3,"f":2.35,"v":3.35e8},{"k":3,"f":2.3505,"v":4.0e8},{"k":3,"f":2.351,"v":3.5e8},{"k":3,"f":2.3515,"v":4.1e8},
{"k":3,"f":2.3518,"v":3.98e8},{"k":3,"f":2.3521,"v":5.25e8},{"k":3,"f":2.3523,"v":1.12e9},{"k":3,"f":2.3525,"v":1.58e9},{"k":3,"f":2.3527,"v":8.9e8},{"k":3,"f":2.35285,"v":5.25e8},{"k":3,"f":2.353,"v":3.98e9},{"k":3,"f":2.3532,"v":2.82e10},{"k":3,"f":2.3534,"v":1.26e11},{"k":3,"f":2.3536,"v":4.47e11},{"k":3,"f":2.3538,"v":1.26e12},{"k":3,"f":2.3541,"v":3.98e12},{"k":3,"f":2.3544,"v":8.9e12},{"k":3,"f":2.3547,"v":2.0e13},{"k":3,"f":2.355,"v":4.17e13},{"k":3,"f":2.3554,"v":8.9e13},{"k":3,"f":2.3557,"v":1.2e14},{"k":3,"f":2.356,"v":1.41e14},{"k":3,"f":2.3565,"v":1.58e14},{"k":3,"f":2.357,"v":1.62e14},{"k":3,"f":2.3585,"v":1.62e14},{"k":3,"f":2.36,"v":1.58e14},{"k":3,"f":2.3615,"v":1.62e14},{"k":3,"f":2.363,"v":1.62e14},{"k":3,"f":2.3635,"v":1.58e14},{"k":3,"f":2.364,"v":1.41e14},{"k":3,"f":2.3643,"v":1.2e14},{"k":3,"f":2.3646,"v":8.9e13},{"k":3,"f":2.365,"v":4.17e13},{"k":3,"f":2.3653,"v":2.0e13},{"k":3,"f":2.3656,"v":8.9e12},{"k":3,"f":2.3659,"v":3.98e12},
{"k":4,"f":2.3005,"v":3.2e6},{"k":4,"f":2.3055,"v":3.4e6},{"k":4,"f":2.3105,"v":3.3e6},{"k":4,"f":2.3155,"v":3.4e6},{"k":4,"f":2.318,"v":3.55e6},{"k":4,"f":2.3205,"v":3.8e6},{"k":4,"f":2.323,"v":4.1e6},{"k":4,"f":2.3255,"v":4.5e6},{"k":4,"f":2.328,"v":5.0e6},{"k":4,"f":2.3305,"v":5.8e6},{"k":4,"f":2.333,"v":6.8e6},{"k":4,"f":2.3355,"v":7.9e6},{"k":4,"f":2.338,"v":8.5e6},{"k":4,"f":2.3385,"v":1.04e7},{"k":4,"f":2.339,"v":9.1e6},{"k":4,"f":2.3395,"v":1.11e7},{"k":4,"f":2.34,"v":9.9e6},{"k":4,"f":2.3405,"v":1.22e7},{"k":4,"f":2.341,"v":1.08e7},{"k":4,"f":2.3415,"v":1.33e7},{"k":4,"f":2.342,"v":1.19e7},{"k":4,"f":2.3425,"v":1.46e7},{"k":4,"f":2.343,"v":1.33e7},{"k":4,"f":2.3435,"v":1.68e7},{"k":4,"f":2.344,"v":1.53e7},{"k":4,"f":2.3445,"v":1.93e7},{"k":4,"f":2.345,"v":1.76e7},{"k":4,"f":2.3455,"v":2.26e7},{"k":4,"f":2.346,"v":2.07e7},{"k":4,"f":2.3465,"v":2.66e7},{"k":4,"f":2.347,"v":2.4e7},{"k":4,"f":2.3475,"v":3.1e7},{"k":4,"f":2.348,"v":2.9e7},{"k":4,"f":2.3485,"v":3.76e7},{"k":4,"f":2.349,"v":3.6e7},{"k":4,"f":2.3495,"v":4.6e7},{"k":4,"f":2.35,"v":4.4e7},{"k":4,"f":2.3505,"v":5.8e7},{"k":4,"f":2.351,"v":5.6e7},{"k":4,"f":2.3515,"v":7.3e7},{"k":4,"f":2.352,"v":7.0e7},{"k":4,"f":2.3525,"v":9.2e7},{"k":4,"f":2.353,"v":8.8e7},{"k":4,"f":2.3535,"v":1.19e8},{"k":4,"f":2.354,"v":1.14e8},{"k":4,"f":2.3545,"v":1.5e8},{"k":4,"f":2.355,"v":1.46e8},{"k":4,"f":2.3555,"v":1.93e8},{"k":4,"f":2.356,"v":1.84e8},{"k":4,"f":2.3565,"v":2.37e8},{"k":4,"f":2.357,"v":2.21e8},{"k":4,"f":2.3575,"v":2.85e8},{"k":4,"f":2.358,"v":2.66e8},{"k":4,"f":2.3585,"v":3.35e8},{"k":4,"f":2.359,"v":3.05e8},{"k":4,"f":2.3595,"v":3.76e8},{"k":4,"f":2.36,"v":3.35e8},{"k":4,"f":2.3605,"v":4.0e8},{"k":4,"f":2.361,"v":3.5e8},{"k":4,"f":2.3615,"v":4.1e8},
{"k":4,"f":2.3618,"v":3.98e8},{"k":4,"f":2.3621,"v":5.25e8},{"k":4,"f":2.3623,"v":1.12e9},{"k":4,"f":2.3625,"v":1.58e9},{"k":4,"f":2.3627,"v":8.9e8},{"k":4,"f":2.36285,"v":5.25e8},{"k":4,"f":2.363,"v":3.98e9},{"k":4,"f":2.3632,"v":2.82e10},{"k":4,"f":2.3634,"v":1.26e11},{"k":4,"f":2.3636,"v":4.47e11},{"k":4,"f":2.3638,"v":1.26e12},{"k":4,"f":2.3641,"v":3.98e12},{"k":4,"f":2.3644,"v":8.9e12},{"k":4,"f":2.3647,"v":2.0e13},{"k":4,"f":2.365,"v":4.17e13},{"k":4,"f":2.3654,"v":8.9e13},{"k":4,"f":2.3657,"v":1.2e14},{"k":4,"f":2.366,"v":1.41e14},
{"k":5,"f":2.3005,"v":3.0e6},{"k":5,"f":2.3055,"v":3.1e6},{"k":5,"f":2.3105,"v":2.95e6},{"k":5,"f":2.3155,"v":3.05e6},{"k":5,"f":2.3205,"v":3.0e6},{"k":5,"f":2.3255,"v":3.3e6},{"k":5,"f":2.328,"v":3.5e6},{"k":5,"f":2.3305,"v":3.8e6},{"k":5,"f":2.333,"v":4.1e6},{"k":5,"f":2.3355,"v":4.5e6},{"k":5,"f":2.338,"v":5.0e6},{"k":5,"f":2.3405,"v":5.8e6},{"k":5,"f":2.343,"v":6.8e6},{"k":5,"f":2.3455,"v":7.9e6},{"k":5,"f":2.348,"v":8.5e6},{"k":5,"f":2.3485,"v":1.04e7},{"k":5,"f":2.349,"v":9.1e6},{"k":5,"f":2.3495,"v":1.11e7},{"k":5,"f":2.35,"v":9.9e6},{"k":5,"f":2.3505,"v":1.22e7},{"k":5,"f":2.351,"v":1.08e7},{"k":5,"f":2.3515,"v":1.33e7},{"k":5,"f":2.352,"v":1.19e7},{"k":5,"f":2.3525,"v":1.46e7},{"k":5,"f":2.353,"v":1.33e7},{"k":5,"f":2.3535,"v":1.68e7},{"k":5,"f":2.354,"v":1.53e7},{"k":5,"f":2.3545,"v":1.93e7},{"k":5,"f":2.355,"v":1.76e7},{"k":5,"f":2.3555,"v":2.26e7},{"k":5,"f":2.356,"v":2.07e7},{"k":5,"f":2.3565,"v":2.66e7},{"k":5,"f":2.357,"v":2.4e7},{"k":5,"f":2.3575,"v":3.1e7},{"k":5,"f":2.358,"v":2.9e7},{"k":5,"f":2.3585,"v":3.76e7},{"k":5,"f":2.359,"v":3.6e7},{"k":5,"f":2.3595,"v":4.6e7},{"k":5,"f":2.36,"v":4.4e7},{"k":5,"f":2.3605,"v":5.8e7},{"k":5,"f":2.361,"v":5.6e7},{"k":5,"f":2.3615,"v":7.3e7},{"k":5,"f":2.362,"v":7.0e7},{"k":5,"f":2.3625,"v":9.2e7},{"k":5,"f":2.363,"v":8.8e7},{"k":5,"f":2.3635,"v":1.19e8},{"k":5,"f":2.364,"v":1.14e8},{"k":5,"f":2.3645,"v":1.5e8},{"k":5,"f":2.365,"v":1.46e8},{"k":5,"f":2.3655,"v":1.93e8},{"k":5,"f":2.366,"v":1.84e8},
{"k":6,"f":2.3005,"v":3.4e6},{"k":6,"f":2.3055,"v":3.3e6},{"k":6,"f":2.3105,"v":3.5e6},{"k":6,"f":2.3155,"v":3.4e6},{"k":6,"f":2.3205,"v":3.3e6},{"k":6,"f":2.3255,"v":3.45e6},{"k":6,"f":2.3305,"v":3.4e6},{"k":6,"f":2.3355,"v":3.5e6},{"k":6,"f":2.338,"v":3.6e6},{"k":6,"f":2.3405,"v":3.8e6},{"k":6,"f":2.343,"v":4.1e6},{"k":6,"f":2.3455,"v":4.5e6},{"k":6,"f":2.348,"v":5.0e6},{"k":6,"f":2.3505,"v":5.8e6},{"k":6,"f":2.353,"v":6.8e6},{"k":6,"f":2.3555,"v":7.9e6},{"k":6,"f":2.358,"v":8.5e6},{"k":6,"f":2.3585,"v":1.04e7},{"k":6,"f":2.359,"v":9.1e6},{"k":6,"f":2.3595,"v":1.11e7},{"k":6,"f":2.36,"v":9.9e6},{"k":6,"f":2.3605,"v":1.22e7},{"k":6,"f":2.361,"v":1.08e7},{"k":6,"f":2.3615,"v":1.33e7},{"k":6,"f":2.362,"v":1.19e7},{"k":6,"f":2.3625,"v":1.46e7},{"k":6,"f":2.363,"v":1.33e7},{"k":6,"f":2.3635,"v":1.68e7},{"k":6,"f":2.364,"v":1.53e7},{"k":6,"f":2.3645,"v":1.93e7},{"k":6,"f":2.365,"v":1.76e7},{"k":6,"f":2.3655,"v":2.26e7},{"k":6,"f":2.366,"v":2.07e7},
{"k":7,"f":2.3005,"v":3.1e6},{"k":7,"f":2.3055,"v":3.0e6},{"k":7,"f":2.3105,"v":3.4e6},{"k":7,"f":2.3155,"v":3.0e6},{"k":7,"f":2.3205,"v":3.3e6},{"k":7,"f":2.3255,"v":3.05e6},{"k":7,"f":2.3305,"v":3.5e6},{"k":7,"f":2.3355,"v":3.1e6},{"k":7,"f":2.3405,"v":3.3e6},{"k":7,"f":2.3455,"v":3.6e6},{"k":7,"f":2.348,"v":3.9e6},{"k":7,"f":2.3505,"v":4.1e6},{"k":7,"f":2.353,"v":4.4e6},{"k":7,"f":2.3555,"v":4.6e6},{"k":7,"f":2.358,"v":5.0e6},{"k":7,"f":2.3605,"v":5.8e6},{"k":7,"f":2.363,"v":6.8e6},{"k":7,"f":2.3655,"v":7.9e6},
{"k":8,"f":2.3005,"v":2.95e6},{"k":8,"f":2.3055,"v":3.05e6},{"k":8,"f":2.3105,"v":2.9e6},{"k":8,"f":2.3155,"v":3.0e6},{"k":8,"f":2.3205,"v":2.95e6},{"k":8,"f":2.3255,"v":3.1e6},{"k":8,"f":2.3305,"v":3.0e6},{"k":8,"f":2.3355,"v":3.15e6},{"k":8,"f":2.3405,"v":3.1e6},{"k":8,"f":2.3455,"v":3.2e6},{"k":8,"f":2.3505,"v":3.4e6},{"k":8,"f":2.3555,"v":3.6e6},{"k":8,"f":2.3605,"v":4.0e6},{"k":8,"f":2.3655,"v":4.4e6}
]},
"layer":[
{"mark":{"type":"line","interpolate":"monotone","strokeWidth":1.1,"clip":true},
 "encoding":{
  "x":{"field":"f","type":"quantitative","scale":{"domain":[2.3038,2.3654],"nice":false,"zero":false},
   "axis":{"orient":"bottom","values":[2.31,2.32,2.33,2.34,2.35,2.36],"format":".2f","title":null,"grid":true,"gridColor":"#d6d6d6","tickSize":-5,"tickColor":"#404040","domainColor":"#404040","labelFont":"Open Sans","labelFontSize":13,"labelColor":"#262626","labelPadding":11,"labelFlush":false}},
  "y":{"field":"v","type":"quantitative","scale":{"type":"log","domain":[1.68e6,3.94e14],"nice":false},
   "axis":{"orient":"left","values":[1e7,1e8,1e9,1e10,1e11,1e12,1e13,1e14],"title":null,"grid":true,"gridColor":"#d0d0d0","tickSize":-5,"tickColor":"#404040","domainColor":"#404040","labelFont":"Open Sans","labelFontSize":13,"labelColor":"#262626","labelPadding":7,"labelOverlap":false,"labelExpr":"['10⁶','10⁷','10⁸','10⁹','10¹⁰','10¹¹','10¹²','10¹³','10¹⁴'][round(log(datum.value)/LN10)-6]"}},
  "color":{"field":"k","type":"nominal","legend":null,"scale":{"domain":[-8,-7,-6,-5,-4,-3,-2,-1,0,1,2,3,4,5,6,7,8],"range":["#6cc6d6","#e2412b","#75b53c","#2e3592","#c44a9f","#6cc6d6","#e2412b","#75b53c","#2e3592","#c44a9f","#6cc6d6","#e2412b","#75b53c","#2e3592","#c44a9f","#6cc6d6","#e2412b"]}}
 }},
{"data":{"values":[{"f":2.33,"v":1e10}]},
 "mark":{"type":"point","opacity":0},
 "encoding":{
  "x":{"field":"f","type":"quantitative","scale":{"domain":[2.3038,2.3654],"nice":false,"zero":false},
   "axis":{"orient":"top","values":[2.31,2.32,2.33,2.34,2.35,2.36],"labels":false,"title":null,"grid":false,"tickSize":-5,"tickColor":"#404040","domainColor":"#404040"}},
  "y":{"field":"v","type":"quantitative","scale":{"type":"log","domain":[1.68e6,3.94e14],"nice":false},
   "axis":{"orient":"right","values":[2e6,3e6,4e6,5e6,6e6,7e6,8e6,9e6,2e7,3e7,4e7,5e7,6e7,7e7,8e7,9e7,2e8,3e8,4e8,5e8,6e8,7e8,8e8,9e8,2e9,3e9,4e9,5e9,6e9,7e9,8e9,9e9,2e10,3e10,4e10,5e10,6e10,7e10,8e10,9e10,2e11,3e11,4e11,5e11,6e11,7e11,8e11,9e11,2e12,3e12,4e12,5e12,6e12,7e12,8e12,9e12,2e13,3e13,4e13,5e13,6e13,7e13,8e13,9e13,2e14,3e14],"labels":false,"title":null,"grid":true,"gridColor":"#d2d2d2","gridDash":[1,2],"tickSize":-3,"tickColor":"#404040","domainColor":"#404040"}}
 }}
],
"resolve":{"axis":{"x":"independent","y":"independent"}}
}
